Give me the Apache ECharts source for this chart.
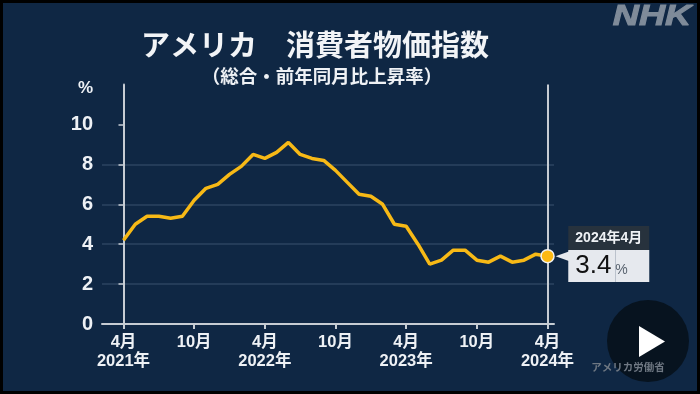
<!DOCTYPE html>
<html>
<head>
<meta charset="utf-8">
<style>
  html, body { margin: 0; padding: 0; background: #000; }
  #chart { width: 700px; height: 394px; }
</style>
<script src="https://cdn.jsdelivr.net/npm/echarts@6/dist/echarts.min.js"></script>
</head>
<body>
<div id="chart"></div>
<script>
// months since April 2021
const cpiValues = [
  4.2, 5.0, 5.4, 5.4, 5.3, 5.4, 6.2, 6.8, 7.0,
  7.5, 7.9, 8.5, 8.3, 8.6, 9.1, 8.5, 8.3, 8.2, 7.7, 7.1, 6.5,
  6.4, 6.0, 5.0, 4.9, 4.0, 3.0, 3.2, 3.7, 3.7, 3.2, 3.1, 3.4,
  3.1, 3.2, 3.5, 3.4,
];
const tickMonths = [0, 6, 12, 18, 24, 30, 36];
const tickLabels = ["4月\n2021年", "10月", "4月\n2022年", "10月", "4月\n2023年", "10月", "4月\n2024年"];
const yTicks = [0, 2, 4, 6, 8, 10];

const lastIndex = cpiValues.length - 1;
const lastPoint = [lastIndex, cpiValues[lastIndex]];
const latin = '"Liberation Sans", "Noto Sans CJK JP", sans-serif';
const cjk = '"Noto Sans CJK JP", sans-serif';
const axisColor = "#c6ccd3";
const textColor = "#eef1f5";

const chart = echarts.init(document.getElementById("chart"));
chart.setOption({
  animation: false,
  backgroundColor: "#000",
  grid: { left: 102, right: 146, top: 84.6, bottom: 70 },
  xAxis: {
    type: "value",
    min: -1.825,
    max: 36.55,
    splitLine: { show: false },
    axisLine: { lineStyle: { color: axisColor, width: 2 } },
    axisTick: { customValues: tickMonths, length: 5, lineStyle: { color: axisColor, width: 2 } },
    axisLabel: {
      customValues: tickMonths,
      formatter: (v) => tickLabels[tickMonths.indexOf(v)],
      color: textColor,
      fontFamily: latin,
      fontWeight: "bold",
      fontSize: 16.5,
      lineHeight: 19,
      margin: 9,
      verticalAlign: "top",
      hideOverlap: false,
    },
  },
  yAxis: {
    type: "value",
    min: 0,
    max: 12,
    interval: 2,
    axisLine: { show: true, lineStyle: { color: axisColor, width: 2 } },
    axisTick: { show: true, customValues: yTicks, length: 5, lineStyle: { color: axisColor, width: 1.5 } },
    splitLine: { showMinLine: false, showMaxLine: false, lineStyle: { color: "#2d4560", width: 1.5 } },
    axisLabel: {
      customValues: yTicks,
      color: textColor,
      fontFamily: latin,
      fontWeight: "bold",
      fontSize: 20,
      margin: 9,
    },
  },
  series: [
    {
      type: "line",
      data: cpiValues.map((v, i) => [i, v]),
      showSymbol: false,
      lineStyle: { color: "#f7b916", width: 3.5 },
      silent: true,
      z: 3,
      markLine: {
        silent: true,
        symbol: "none",
        label: { show: false },
        lineStyle: { color: axisColor, width: 2, type: "solid" },
        data: [{ xAxis: lastIndex }],
      },
    },
    {
      // pointer of the callout
      type: "scatter",
      data: [lastPoint],
      symbol: "triangle",
      symbolRotate: 90,
      symbolSize: [10, 14],
      symbolOffset: [15, 0],
      itemStyle: { color: "#e6e9ee", opacity: 1 },
      silent: true,
      z: 4,
    },
    {
      type: "scatter",
      data: [lastPoint],
      symbolSize: 13,
      itemStyle: { color: "#fdb913", borderColor: "#f2f2f2", borderWidth: 1.5, opacity: 1 },
      silent: true,
      z: 5,
      label: {
        show: true,
        position: [28, -23],
        formatter: () => `{h|2024年4月}\n{v|${lastPoint[1]}}{p|%}`,
        rich: {
          h: {
            width: 81, height: 24, align: "center",
            backgroundColor: "#27323d", color: "#eef1f5",
            fontFamily: latin, fontWeight: "bold", fontSize: 14,
          },
          v: {
            width: 40, height: 32, padding: [0, 0, 0, 7], align: "left",
            backgroundColor: "#e6e9ee", color: "#111",
            fontFamily: latin, fontSize: 26,
          },
          p: {
            width: 34, height: 24, padding: [8, 0, 0, 0], align: "left",
            backgroundColor: "#e6e9ee", color: "#5a6470",
            fontFamily: latin, fontSize: 14,
          },
        },
      },
    },
  ],
  graphic: [
    { type: "rect", z: -10, shape: { x: 3, y: 3, width: 694, height: 388 }, style: { fill: "#0f2744" } },
    { type: "text", x: 315, y: 45, style: { text: "アメリカ　消費者物価指数", font: `bold 29px ${cjk}`, fill: "#f2f4f7", align: "center", verticalAlign: "middle" } },
    { type: "text", x: 322, y: 76, style: { text: "（総合・前年同月比上昇率）", font: `bold 18.5px ${cjk}`, fill: "#eef1f5", align: "center", verticalAlign: "middle" } },
    { type: "text", x: 93, y: 88, style: { text: "%", font: `bold 17px ${latin}`, fill: textColor, align: "right", verticalAlign: "middle" } },
    { type: "text", x: 652, y: 17, scaleX: 1.25, style: { text: "NHK", font: `italic bold 29px ${latin}`, fill: "#7f8b99", stroke: "#7f8b99", lineWidth: 1, align: "center", verticalAlign: "middle" } },
    { type: "circle", z: 20, shape: { cx: 648, cy: 341, r: 41 }, style: { fill: "#07131f" } },
    { type: "polygon", z: 21, shape: { points: [[639, 326], [665, 341.5], [639, 357]] }, style: { fill: "#fff" } },
    { type: "text", z: 22, x: 628, y: 367, style: { text: "アメリカ労働省", font: `bold 10.5px ${cjk}`, fill: "#6f7883", align: "center", verticalAlign: "middle" } },
  ],
});
</script>
</body>
</html>
